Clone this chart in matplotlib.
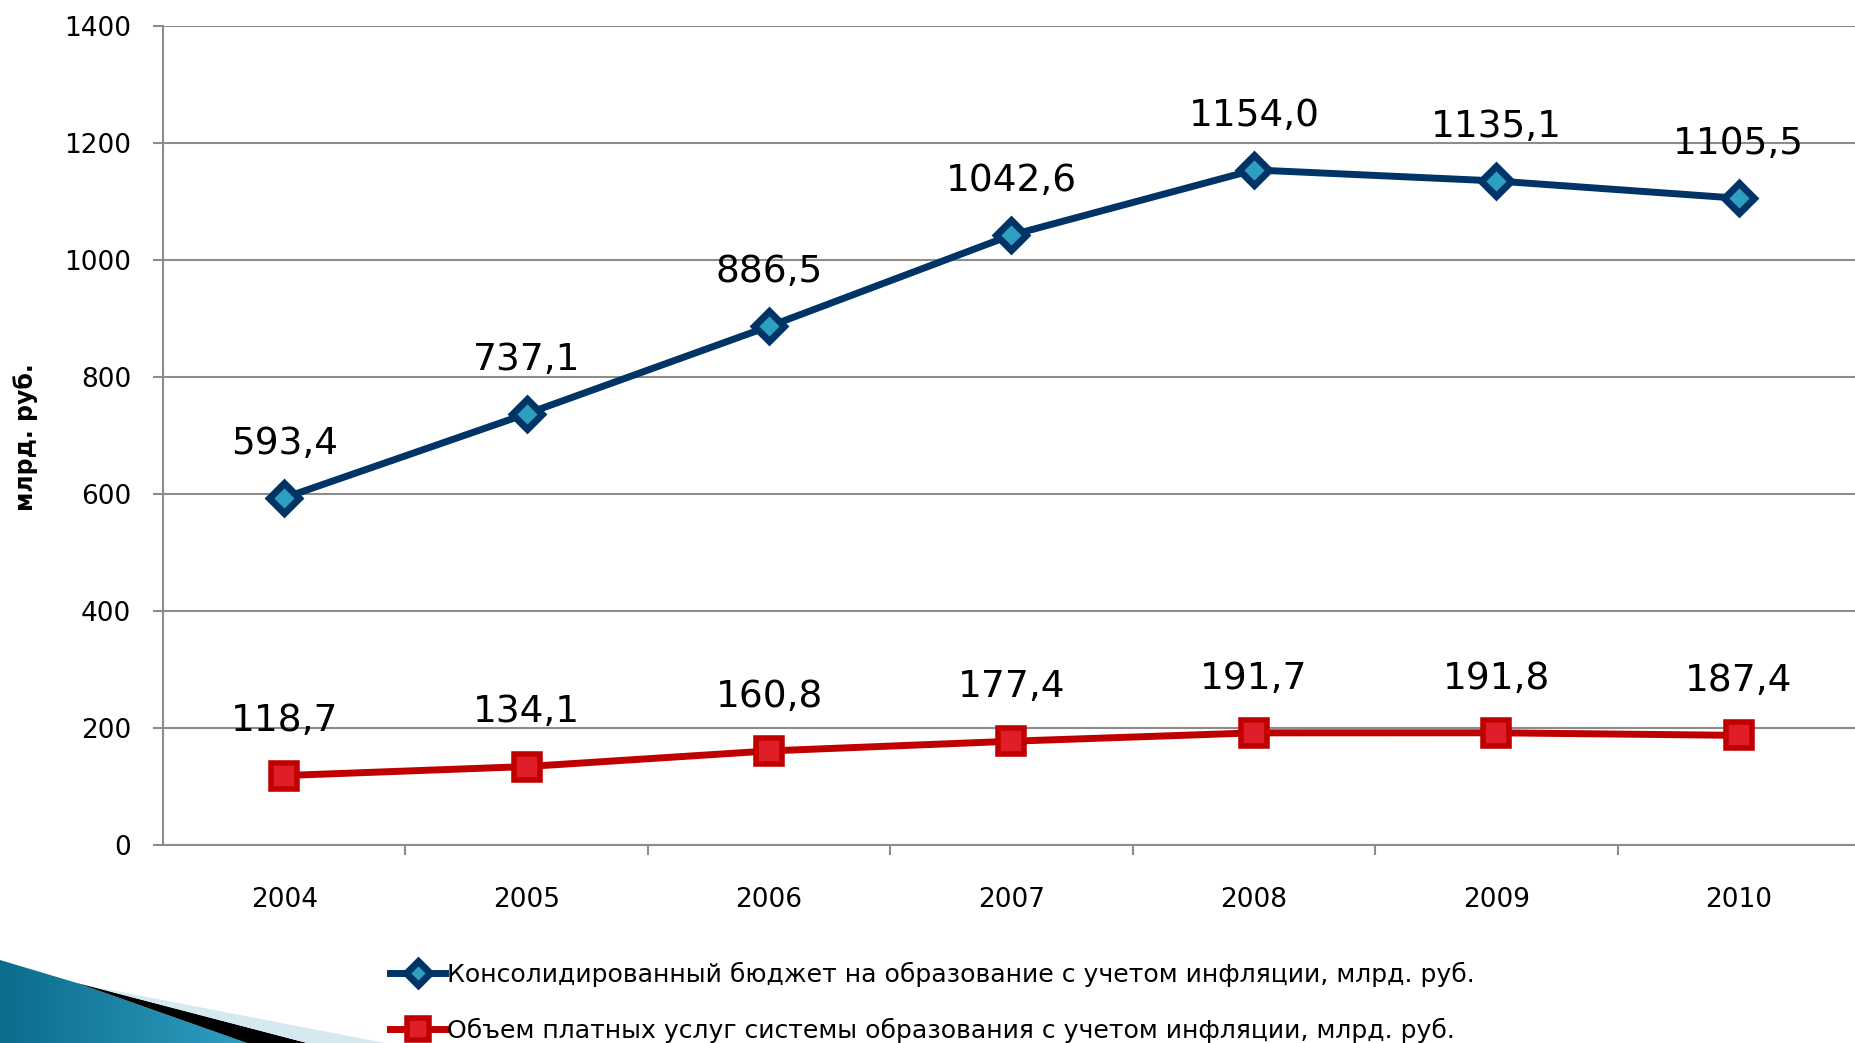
import numpy as np
import matplotlib
matplotlib.use("Agg")
from matplotlib import pyplot as plt
from matplotlib.patches import Polygon

years = ["2004", "2005", "2006", "2007", "2008", "2009", "2010"]
budget = [593.4, 737.1, 886.5, 1042.6, 1154.0, 1135.1, 1105.5]
paid = [118.7, 134.1, 160.8, 177.4, 191.7, 191.8, 187.4]
budget_labels = ["593,4", "737,1", "886,5", "1042,6", "1154,0", "1135,1", "1105,5"]
paid_labels = ["118,7", "134,1", "160,8", "177,4", "191,7", "191,8", "187,4"]
budget_name = "Консолидированный бюджет на образование с учетом инфляции, млрд. руб."
paid_name = "Объем платных услуг системы образования с учетом инфляции, млрд. руб."

W, H = 1855, 1043
plt.rcParams['font.family'] = ['DejaVu Sans']
fig = plt.figure(figsize=(W / 100, H / 100), dpi=100)
fig.patch.set_facecolor("white")

# plot area in pixel terms
ax = fig.add_axes([163 / W, 1 - 845 / H, (1860 - 163) / W, (845 - 26) / H])
x = np.arange(len(years))
grid_c = "#8c8c8c"

ax.plot(x, budget, color="#003366", lw=5, marker="D", ms=15,
        mfc="#2e9fc0", mec="#003366", mew=5, zorder=3, label=budget_name)
ax.plot(x, paid, color="#c00000", lw=5, marker="s", ms=19,
        mfc="#e01e2a", mec="#c00000", mew=4, zorder=3, label=paid_name)

for xi, v, t in zip(x, budget, budget_labels):
    ax.annotate(t, (xi, v), xytext=(0, 39), textcoords="offset points",
                ha="center", va="center", fontsize=27)
for xi, v, t in zip(x, paid, paid_labels):
    ax.annotate(t, (xi, v), xytext=(0, 39), textcoords="offset points",
                ha="center", va="center", fontsize=27)

ax.set_xlim(-0.5, len(years) - 0.5)
ax.set_ylim(0, 1400)
ax.set_yticks(range(0, 1401, 200))
ax.yaxis.grid(True, color=grid_c, lw=1.5)
ax.set_axisbelow(True)
ax.tick_params(axis="y", length=7, width=1.5, color=grid_c, labelsize=19, pad=16)

# ticks between categories, labels at centres
ax.set_xticks(np.arange(0.5, len(years) - 0.5, 1.0))
ax.set_xticklabels([])
ax.set_xticks(x, minor=True)
ax.set_xticklabels(years, minor=True)
ax.tick_params(axis="x", which="major", length=7, width=1.5, color=grid_c, direction="out")
ax.tick_params(axis="x", which="minor", length=0, labelsize=19, pad=30)

for s in ["top", "right"]:
    ax.spines[s].set_visible(False)
for s in ["left", "bottom"]:
    ax.spines[s].set_color(grid_c)
    ax.spines[s].set_linewidth(1.5)

fig.text(26 / W, 1 - 437 / H, "млрд. руб.", rotation=90, fontsize=17,
         fontweight="bold", ha="center", va="center")

leg = fig.legend(loc="upper left", bbox_to_anchor=(390 / W, 1 - 962 / H),
                 frameon=False, fontsize=18.1, handlelength=2.2, handletextpad=0.05,
                 labelspacing=1.22, markerscale=0.8, borderpad=0, borderaxespad=0)

# decorative swoosh in the lower left corner
deco = fig.add_axes([0, 0, 1, 1], zorder=-1)
deco.set_xlim(0, W)
deco.set_ylim(H, 0)
deco.axis("off")

grad = np.linspace(0, 1, 256).reshape(1, -1)
teal = Polygon([(0, 960), (77, 983), (247, 1043), (0, 1043)], closed=True,
               facecolor="none", edgecolor="none", transform=deco.transData)
deco.add_patch(teal)
img = deco.imshow(grad, extent=(0, 250, 1043, 955), aspect="auto",
                  cmap=matplotlib.colors.LinearSegmentedColormap.from_list(
                      "t", ["#0b6c8c", "#2f9fc2"]))
img.set_clip_path(teal)
deco.add_patch(Polygon([(77, 983), (307, 1043), (247, 1043)], closed=True,
                       facecolor="black", edgecolor="none"))
deco.add_patch(Polygon([(90, 986), (385, 1043), (307, 1043)], closed=True,
                       facecolor="#d5e9f0", edgecolor="none"))

fig.savefig("out.png", dpi=100)
